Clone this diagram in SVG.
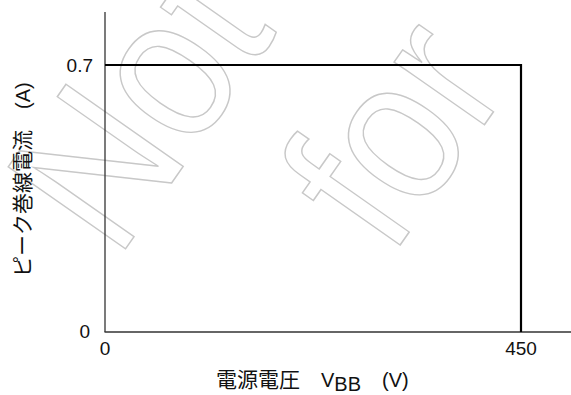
<svg xmlns="http://www.w3.org/2000/svg" width="571" height="395" viewBox="0 0 571 395">
<style>
.wm{font-family:"Liberation Sans",Arial,sans-serif;font-size:208px;fill:none;stroke:#c8c8c8;stroke-width:1.5}
.lbl{font-family:"Liberation Sans","Noto Sans CJK JP",sans-serif;font-size:21px;fill:#111}
.lat{font-size:20px}
.num{font-family:"Liberation Sans",Arial,sans-serif;font-size:19px;fill:#111}
.axis{stroke:#333;stroke-width:1.3;fill:none}
.data{stroke:#000;stroke-width:2.2;fill:none}
</style>
<rect width="571" height="395" fill="#fff"/>
<g id="watermark">
<text class="wm" transform="translate(117,261) rotate(-55) scale(0.866,1)">Not</text>
<text class="wm" transform="translate(391,258) rotate(-55) scale(0.866,1)">for</text>
</g>
<g id="axes">
<line class="axis" x1="105" y1="12" x2="105" y2="332"/>
<line class="axis" x1="104.5" y1="332" x2="571" y2="332"/>
</g>
<g id="connectors">
<polyline class="data" points="105,65 521,65 521,332"/>
</g>
<g id="ticks">
<text class="num" x="93" y="72" text-anchor="end">0.7</text>
<text class="num" x="90" y="338" text-anchor="end">0</text>
<text class="num" x="105" y="355" text-anchor="middle">0</text>
<text class="num" x="521" y="355" text-anchor="middle">450</text>
</g>
<g id="xlabel">
<text class="lbl" x="216" y="387">電源電圧　<tspan class="lat">V</tspan><tspan class="lat" dy="4">BB</tspan>　<tspan class="lat" dy="-4">(V)</tspan></text>
</g>
<g id="ylabel">
<text class="lbl" transform="translate(30,277) rotate(-90)">ピーク巻線電流　<tspan class="lat">(A)</tspan></text>
</g>
</svg>
